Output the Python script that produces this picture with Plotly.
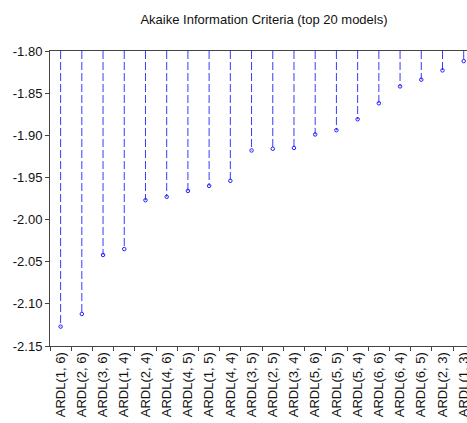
import plotly.graph_objects as go

models = ["ARDL(1, 6)", "ARDL(2, 6)", "ARDL(3, 6)", "ARDL(1, 4)", "ARDL(2, 4)",
          "ARDL(4, 6)", "ARDL(4, 5)", "ARDL(1, 5)", "ARDL(4, 4)", "ARDL(3, 5)",
          "ARDL(2, 5)", "ARDL(3, 4)", "ARDL(5, 6)", "ARDL(5, 5)", "ARDL(5, 4)",
          "ARDL(6, 6)", "ARDL(6, 4)", "ARDL(6, 5)", "ARDL(2, 3)", "ARDL(1, 3)"]
aic = [-2.127, -2.112, -2.042, -2.035, -1.977, -1.973, -1.966, -1.960, -1.954, -1.918,
       -1.916, -1.915, -1.899, -1.894, -1.881, -1.862, -1.842, -1.834, -1.823, -1.812]
baseline = -1.80
ytick_vals = [-2.15, -2.10, -2.05, -2.00, -1.95, -1.90, -1.85, -1.80]
ytick_text = ["-2.15", "-2.10", "-2.05", "-2.00", "-1.95", "-1.90", "-1.85", "-1.80"]

stem_x, stem_y = [], []
for m, v in zip(models, aic):
    stem_x += [m, m, None]
    stem_y += [baseline, v, None]

fig = go.Figure()
fig.add_trace(go.Scatter(x=stem_x, y=stem_y, mode="lines",
                         line=dict(color="#3a3aff", width=1, dash="8px,3px"),
                         hoverinfo="skip", showlegend=False))
fig.add_trace(go.Scatter(x=models, y=aic, mode="markers",
                         marker=dict(symbol="circle-open", size=3.5, color="#2020ff",
                                     line=dict(width=1, color="#2020ff")),
                         showlegend=False))

W, H = 467, 423
L, T, B = 50, 51, 77
fig.update_layout(
    width=W, height=H,
    margin=dict(l=L, r=0, t=T, b=B, pad=0, autoexpand=False),
    paper_bgcolor="white", plot_bgcolor="white",
    font=dict(family="Liberation Sans, Arial, sans-serif", size=13, color="#111"),
    title=dict(text="Akaike Information Criteria (top 20 models)",
               x=264 / W, xref="container", xanchor="center",
               y=1 - 19 / H, yref="container", yanchor="middle",
               font=dict(size=13, color="#111")),
)
fig.update_xaxes(
    type="category", categoryorder="array", categoryarray=models,
    range=[-0.5, 19.155], tickangle=-90, tickson="boundaries", automargin=False,
    ticks="outside", ticklen=4, tickcolor="#444", tickwidth=1,
    showline=True, linecolor="#444", linewidth=1, mirror=True,
    showgrid=False, zeroline=False, tickfont=dict(size=13, color="#111"),
)
fig.update_yaxes(
    range=[-2.15, -1.80], tickvals=ytick_vals, ticktext=ytick_text, automargin=False,
    ticks="outside", ticklen=4, tickcolor="#444", tickwidth=1,
    showline=True, linecolor="#444", linewidth=1, mirror=False,
    showgrid=False, zeroline=False, tickfont=dict(size=13, color="#111"),
)

fig.write_html("out.html",
               config={"displayModeBar": False},
               post_script="document.body.style.margin='0';document.body.style.overflow='hidden';")
